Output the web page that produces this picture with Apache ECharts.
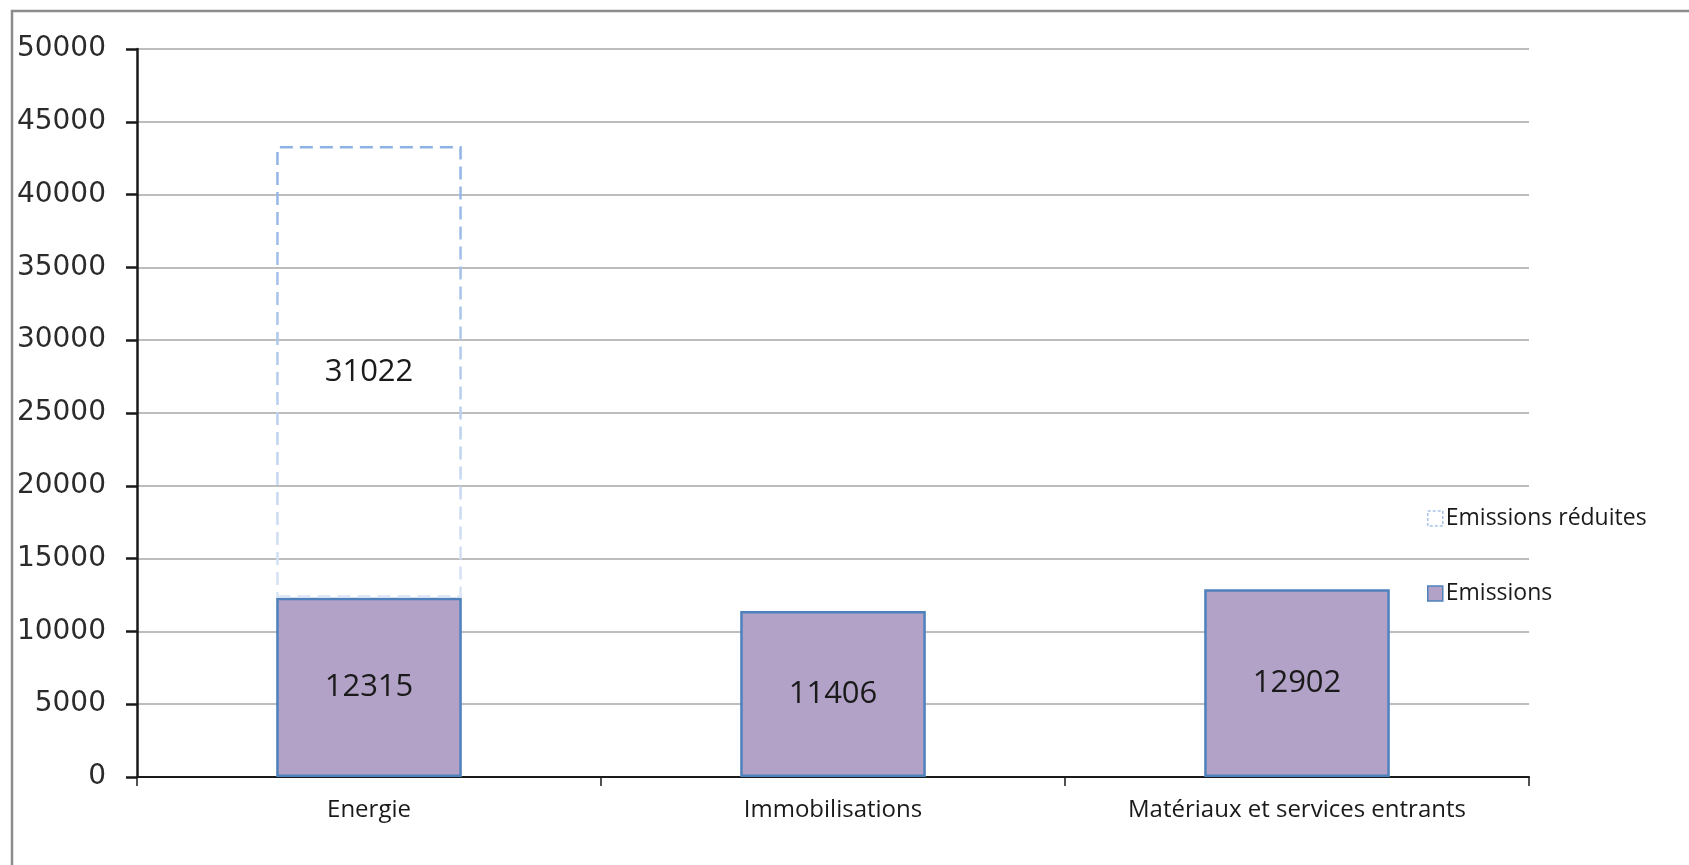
<!DOCTYPE html>
<html>
<head>
<meta charset="utf-8">
<script src="https://cdn.jsdelivr.net/npm/echarts@6/dist/echarts.min.js"></script>
<style>
html,body{margin:0;padding:0;background:#fff;}
#chart{width:1689px;height:865px;}
</style>
</head>
<body>
<div id="chart"></div>
<script>
const categories = ['Energie', 'Immobilisations', 'Matériaux et services entrants'];
const emissions = [12315, 11406, 12902];
const emissionsReduites = [31022, null, null];
const yTicks = [0, 5000, 10000, 15000, 20000, 25000, 30000, 35000, 40000, 45000, 50000];

const chart = echarts.init(document.getElementById('chart'), null, {renderer: 'canvas'});
const labelFont = {fontFamily: 'Open Sans', fontSize: 31, color: '#1a1a1a'};

chart.setOption({
  backgroundColor: '#fff',
  animation: false,
  graphic: [{
    type: 'polyline',
    shape: {points: [[12, 865], [12, 11], [1689, 11]]},
    style: {stroke: '#8c8c8c', lineWidth: 2.5, fill: null},
    silent: true
  }],
  grid: {left: 137, right: 160, top: 49, bottom: 88, containLabel: false},
  legend: {
    orient: 'vertical',
    left: 1422,
    top: 502,
    itemGap: 52,
    itemWidth: 15,
    itemHeight: 15,
    icon: 'rect',
    textStyle: {fontFamily: 'Open Sans', fontSize: 23, color: '#1a1a1a', padding: [0, 0, 0, -2]},
    data: [
      {name: 'Emissions réduites', itemStyle: {color: '#fff', borderColor: '#a9c4ea', borderWidth: 1.5, borderType: [3, 2]}},
      {name: 'Emissions', itemStyle: {color: '#b3a2c7', borderColor: '#4f81bd', borderWidth: 1.5}}
    ]
  },
  xAxis: {
    type: 'category',
    data: categories,
    boundaryGap: true,
    axisLine: {show: true, lineStyle: {color: '#1a1a1a', width: 2}},
    axisTick: {show: true, length: 9, lineStyle: {color: '#1a1a1a', width: 1.5}},
    axisLabel: {margin: 21, fontFamily: 'Open Sans', fontSize: 24, color: '#1a1a1a'},
    splitLine: {show: false}
  },
  yAxis: {
    type: 'value',
    min: yTicks[0],
    max: yTicks[yTicks.length - 1],
    interval: 5000,
    axisLine: {show: true, lineStyle: {color: '#1a1a1a', width: 2.5}},
    axisTick: {show: true, length: 11, lineStyle: {color: '#1a1a1a', width: 2.5}},
    axisLabel: {margin: 31, fontFamily: 'DejaVu Sans', fontSize: 28, color: '#2b2b2b', formatter: function (v) { return String(v); }},
    splitLine: {show: true, lineStyle: {color: '#bdbdbd', width: 2}}
  },
  series: [
    {
      name: 'Emissions',
      type: 'bar',
      stack: 'total',
      barWidth: '40%',
      data: emissions,
      itemStyle: {color: '#b3a2c7', borderColor: '#4f81bd', borderWidth: 2.5},
      label: Object.assign({show: true, position: 'inside'}, labelFont),
      z: 2
    },
    {
      name: 'Emissions réduites',
      type: 'bar',
      stack: 'total',
      barWidth: '40%',
      data: emissionsReduites,
      itemStyle: {
        color: 'rgba(255,255,255,0)',
        borderColor: new echarts.graphic.LinearGradient(0, 0, 0, 1, [
          {offset: 0, color: '#8fb2e6'},
          {offset: 1, color: '#d9e4f4'}
        ]),
        borderWidth: 2.5,
        borderType: [13, 7]
      },
      label: Object.assign({show: true, position: 'inside'}, labelFont),
      z: 3
    }
  ]
});
</script>
</body>
</html>
